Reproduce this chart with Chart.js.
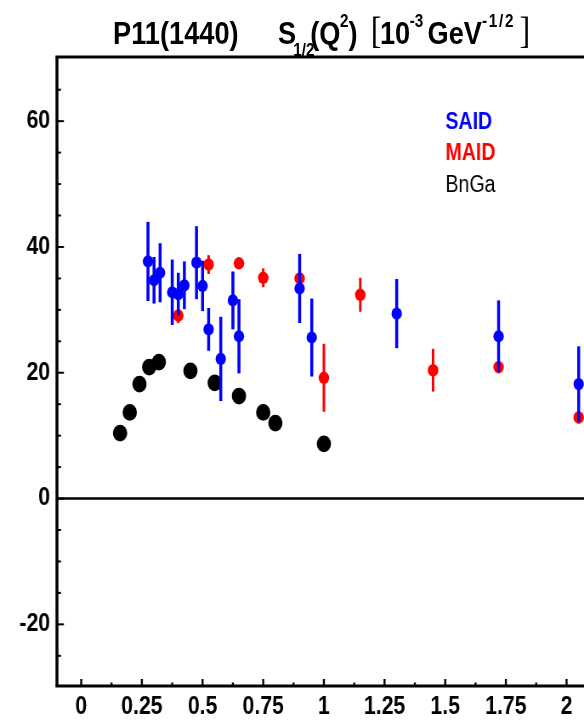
<!DOCTYPE html>
<html><head><meta charset="utf-8">
<script src="https://cdn.jsdelivr.net/npm/chart.js@4.4.1/dist/chart.umd.min.js"></script>
<style>
html,body{margin:0;padding:0;background:#fff;overflow:hidden;}
#wrap{position:absolute;left:0;top:0;width:687px;height:722px;transform:scaleX(0.850073);transform-origin:0 0;}
#title span{position:absolute;white-space:nowrap;font-family:'Liberation Sans',Arial,sans-serif;font-weight:bold;color:#000;line-height:1;}
#title .m{font-size:32px;top:17px;}
#title .sub{font-size:18px;top:41px;}
#title .sup{font-size:18px;top:12px;}
#title .br{font-family:'Liberation Serif',serif;font-weight:normal;font-size:38px;top:11px;}
canvas{display:block;}
</style></head><body>
<div id="wrap">
<canvas id="c" width="687" height="722"></canvas>
<div id="title">
<span class="m" style="left:133px">P11(1440)</span>
<span class="m" style="left:327px">S</span>
<span class="sub" style="left:345px">1/2</span>
<span class="m" style="left:365px">(Q</span>
<span class="sup" style="left:400px">2</span>
<span class="m" style="left:410px">)</span>
<span class="br" style="left:436px">[</span>
<span class="m" style="left:447px">10</span>
<span class="sup" style="left:482px">-3</span>
<span class="m" style="left:503px">GeV</span>
<span class="sup" style="left:567px;letter-spacing:2px">-1/2</span>
<span class="br" style="left:611px">]</span>
</div>
</div>
<script>
// ---- data (Q^2 in GeV^2, S1/2 in 10^-3 GeV^-1/2) ----
const saidQ2  = [0.275, 0.3, 0.325, 0.375, 0.4, 0.425, 0.475, 0.5, 0.525, 0.575, 0.625, 0.65, 0.9, 0.95, 1.3, 1.72, 2.05];
const saidS   = [37.7, 34.7, 35.9, 32.8, 32.5, 33.9, 37.5, 33.8, 26.9, 22.2, 31.5, 25.8, 33.4, 25.6, 29.4, 25.8, 18.2];
const saidErr = [6.3, 3.7, 4.7, 5.2, 3.4, 3.8, 5.8, 4.0, 3.4, 6.7, 4.6, 5.9, 5.5, 6.2, 5.5, 5.7, 6.0];

const maidQ2  = [0.4, 0.525, 0.65, 0.75, 0.9, 1.0, 1.15, 1.45, 1.72, 2.05];
const maidS   = [29.1, 37.2, 37.4, 35.1, 35.0, 19.2, 32.4, 20.4, 20.9, 12.9];
const maidErr = [1.2, 1.5, 0.8, 1.5, 1.0, 5.4, 2.7, 3.4, 1.0, 1.0];

const bngaQ2  = [0.16, 0.2, 0.24, 0.28, 0.32, 0.45, 0.55, 0.65, 0.75, 0.8, 1.0];
const bngaS   = [10.4, 13.7, 18.2, 20.9, 21.7, 20.3, 18.4, 16.3, 13.7, 12.0, 8.7];

const xTickValues = [0, 0.25, 0.5, 0.75, 1, 1.25, 1.5, 1.75, 2];
const xTickLabels = ['0', '0.25', '0.5', '0.75', '1', '1.25', '1.5', '1.75', '2'];
const yTickValues = [-20, 0, 20, 40, 60];
const yTickLabels = ['-20', '0', '20', '40', '60'];

const FONT = "'Liberation Sans', Arial, Helvetica, sans-serif";
const pts = (xs, ys) => xs.map((x, i) => ({x: x, y: ys[i]}));

const rootAxes = {
  id: 'rootAxes',
  beforeDatasetsDraw(chart) {
    const {ctx, chartArea: a, scales: {y}} = chart;
    const y0 = y.getPixelForValue(0);
    ctx.save();
    ctx.strokeStyle = '#000'; ctx.lineWidth = 2.5;
    ctx.beginPath(); ctx.moveTo(a.left, y0); ctx.lineTo(a.right, y0); ctx.stroke();
    ctx.restore();
  },
  beforeDatasetDraw(chart, args) {
    const ds = chart.data.datasets[args.index];
    if (!ds.errors) return;
    const {ctx, scales: {x, y}} = chart;
    ctx.save();
    ctx.strokeStyle = ds.errorColor; ctx.lineWidth = ds.errorWidth; ctx.lineCap = 'butt';
    ds.data.forEach((p, i) => {
      const e = ds.errors[i];
      const px = x.getPixelForValue(p.x);
      ctx.beginPath();
      ctx.moveTo(px, y.getPixelForValue(p.y + e));
      ctx.lineTo(px, y.getPixelForValue(p.y - e));
      ctx.stroke();
    });
    ctx.restore();
  },
  afterDatasetsDraw(chart) {
    const {ctx, chartArea: a, scales: {x, y}} = chart;
    ctx.save();
    ctx.strokeStyle = '#000';
    ctx.lineWidth = 2.4;
    for (let i = 0; i <= 16; i++) {
      const px = x.getPixelForValue(i * 0.125);
      const len = (i % 2 === 0) ? 7 : 3.5;
      ctx.beginPath(); ctx.moveTo(px, a.bottom); ctx.lineTo(px, a.bottom - len); ctx.stroke();
    }
    ctx.lineWidth = 2;
    for (let v = -25; v <= 65; v += 5) {
      const py = y.getPixelForValue(v);
      const len = (v % 20 === 0) ? 8.2 : 4.7;
      ctx.beginPath(); ctx.moveTo(a.left, py); ctx.lineTo(a.left + len, py); ctx.stroke();
    }
    ctx.lineWidth = 3;
    ctx.beginPath(); ctx.moveTo(a.left - 1.75, a.top); ctx.lineTo(a.right, a.top); ctx.stroke();
    ctx.beginPath(); ctx.moveTo(a.left - 1.75, a.bottom); ctx.lineTo(a.right, a.bottom); ctx.stroke();
    ctx.lineWidth = 3.5;
    ctx.beginPath(); ctx.moveTo(a.left, a.top); ctx.lineTo(a.left, a.bottom); ctx.stroke();
    ctx.restore();
  },
  afterDraw(chart) {
    const {ctx, chartArea: a} = chart;
    const baselines = [129.3, 160, 191.7];
    ctx.save();
    ctx.textAlign = 'left'; ctx.textBaseline = 'alphabetic';
    chart.data.datasets.forEach((ds, i) => {
      ctx.font = (ds.legendWeight || 'bold') + ' 23px ' + FONT;
      ctx.fillStyle = ds.backgroundColor;
      ctx.fillText(ds.label, a.left + 457, baselines[i]);
    });
    ctx.restore();
  }
};

new Chart(document.getElementById('c'), {
  type: 'scatter',
  data: {
    datasets: [
      {label: 'SAID', data: pts(saidQ2, saidS), errors: saidErr, errorColor: '#0000ff', errorWidth: 3.5,
       backgroundColor: '#0000ff', pointBackgroundColor: '#0000ff', pointBorderWidth: 0, pointRadius: 6.1, order: 1, clip: false},
      {label: 'MAID', data: pts(maidQ2, maidS), errors: maidErr, errorColor: '#ff0000', errorWidth: 3,
       backgroundColor: '#ff0000', pointBackgroundColor: '#ff0000', pointBorderWidth: 0, pointRadius: 6.2, order: 2, clip: false},
      {label: 'BnGa', data: pts(bngaQ2, bngaS), legendWeight: 'normal',
       backgroundColor: '#000000', pointBackgroundColor: '#000000', pointBorderWidth: 0, pointRadius: 8.4, order: 3, clip: false}
    ]
  },
  options: {
    responsive: false,
    animation: false,
    events: [],
    layout: {autoPadding: false, padding: {top: 57, left: 0, right: 0, bottom: 0}},
    plugins: {legend: {display: false}, title: {display: false}, tooltip: {enabled: false}},
    scales: {
      x: {
        type: 'linear', min: -0.1, max: 2.072,
        afterFit(s) { s.height = 36; s.paddingLeft = 0; s.paddingRight = 0; },
        afterBuildTicks(s) { s.ticks = xTickValues.map(v => ({value: v})); },
        grid: {display: false, drawTicks: false},
        border: {display: false},
        ticks: {padding: 6, color: '#000', maxRotation: 0, autoSkip: false,
                font: {family: FONT, size: 25, weight: 'bold'},
                callback: (v, i) => xTickLabels[i]}
      },
      y: {
        type: 'linear', min: -29.8, max: 70.2,
        afterFit(s) { s.width = 67; s.paddingTop = 0; s.paddingBottom = 0; },
        afterBuildTicks(s) { s.ticks = yTickValues.map(v => ({value: v})); },
        grid: {display: false, drawTicks: false},
        border: {display: false},
        ticks: {padding: 8, color: '#000', autoSkip: false,
                font: {family: FONT, size: 25, weight: 'bold'},
                callback: (v, i) => yTickLabels[i]}
      }
    }
  },
  plugins: [rootAxes]
});
</script>
</body></html>
